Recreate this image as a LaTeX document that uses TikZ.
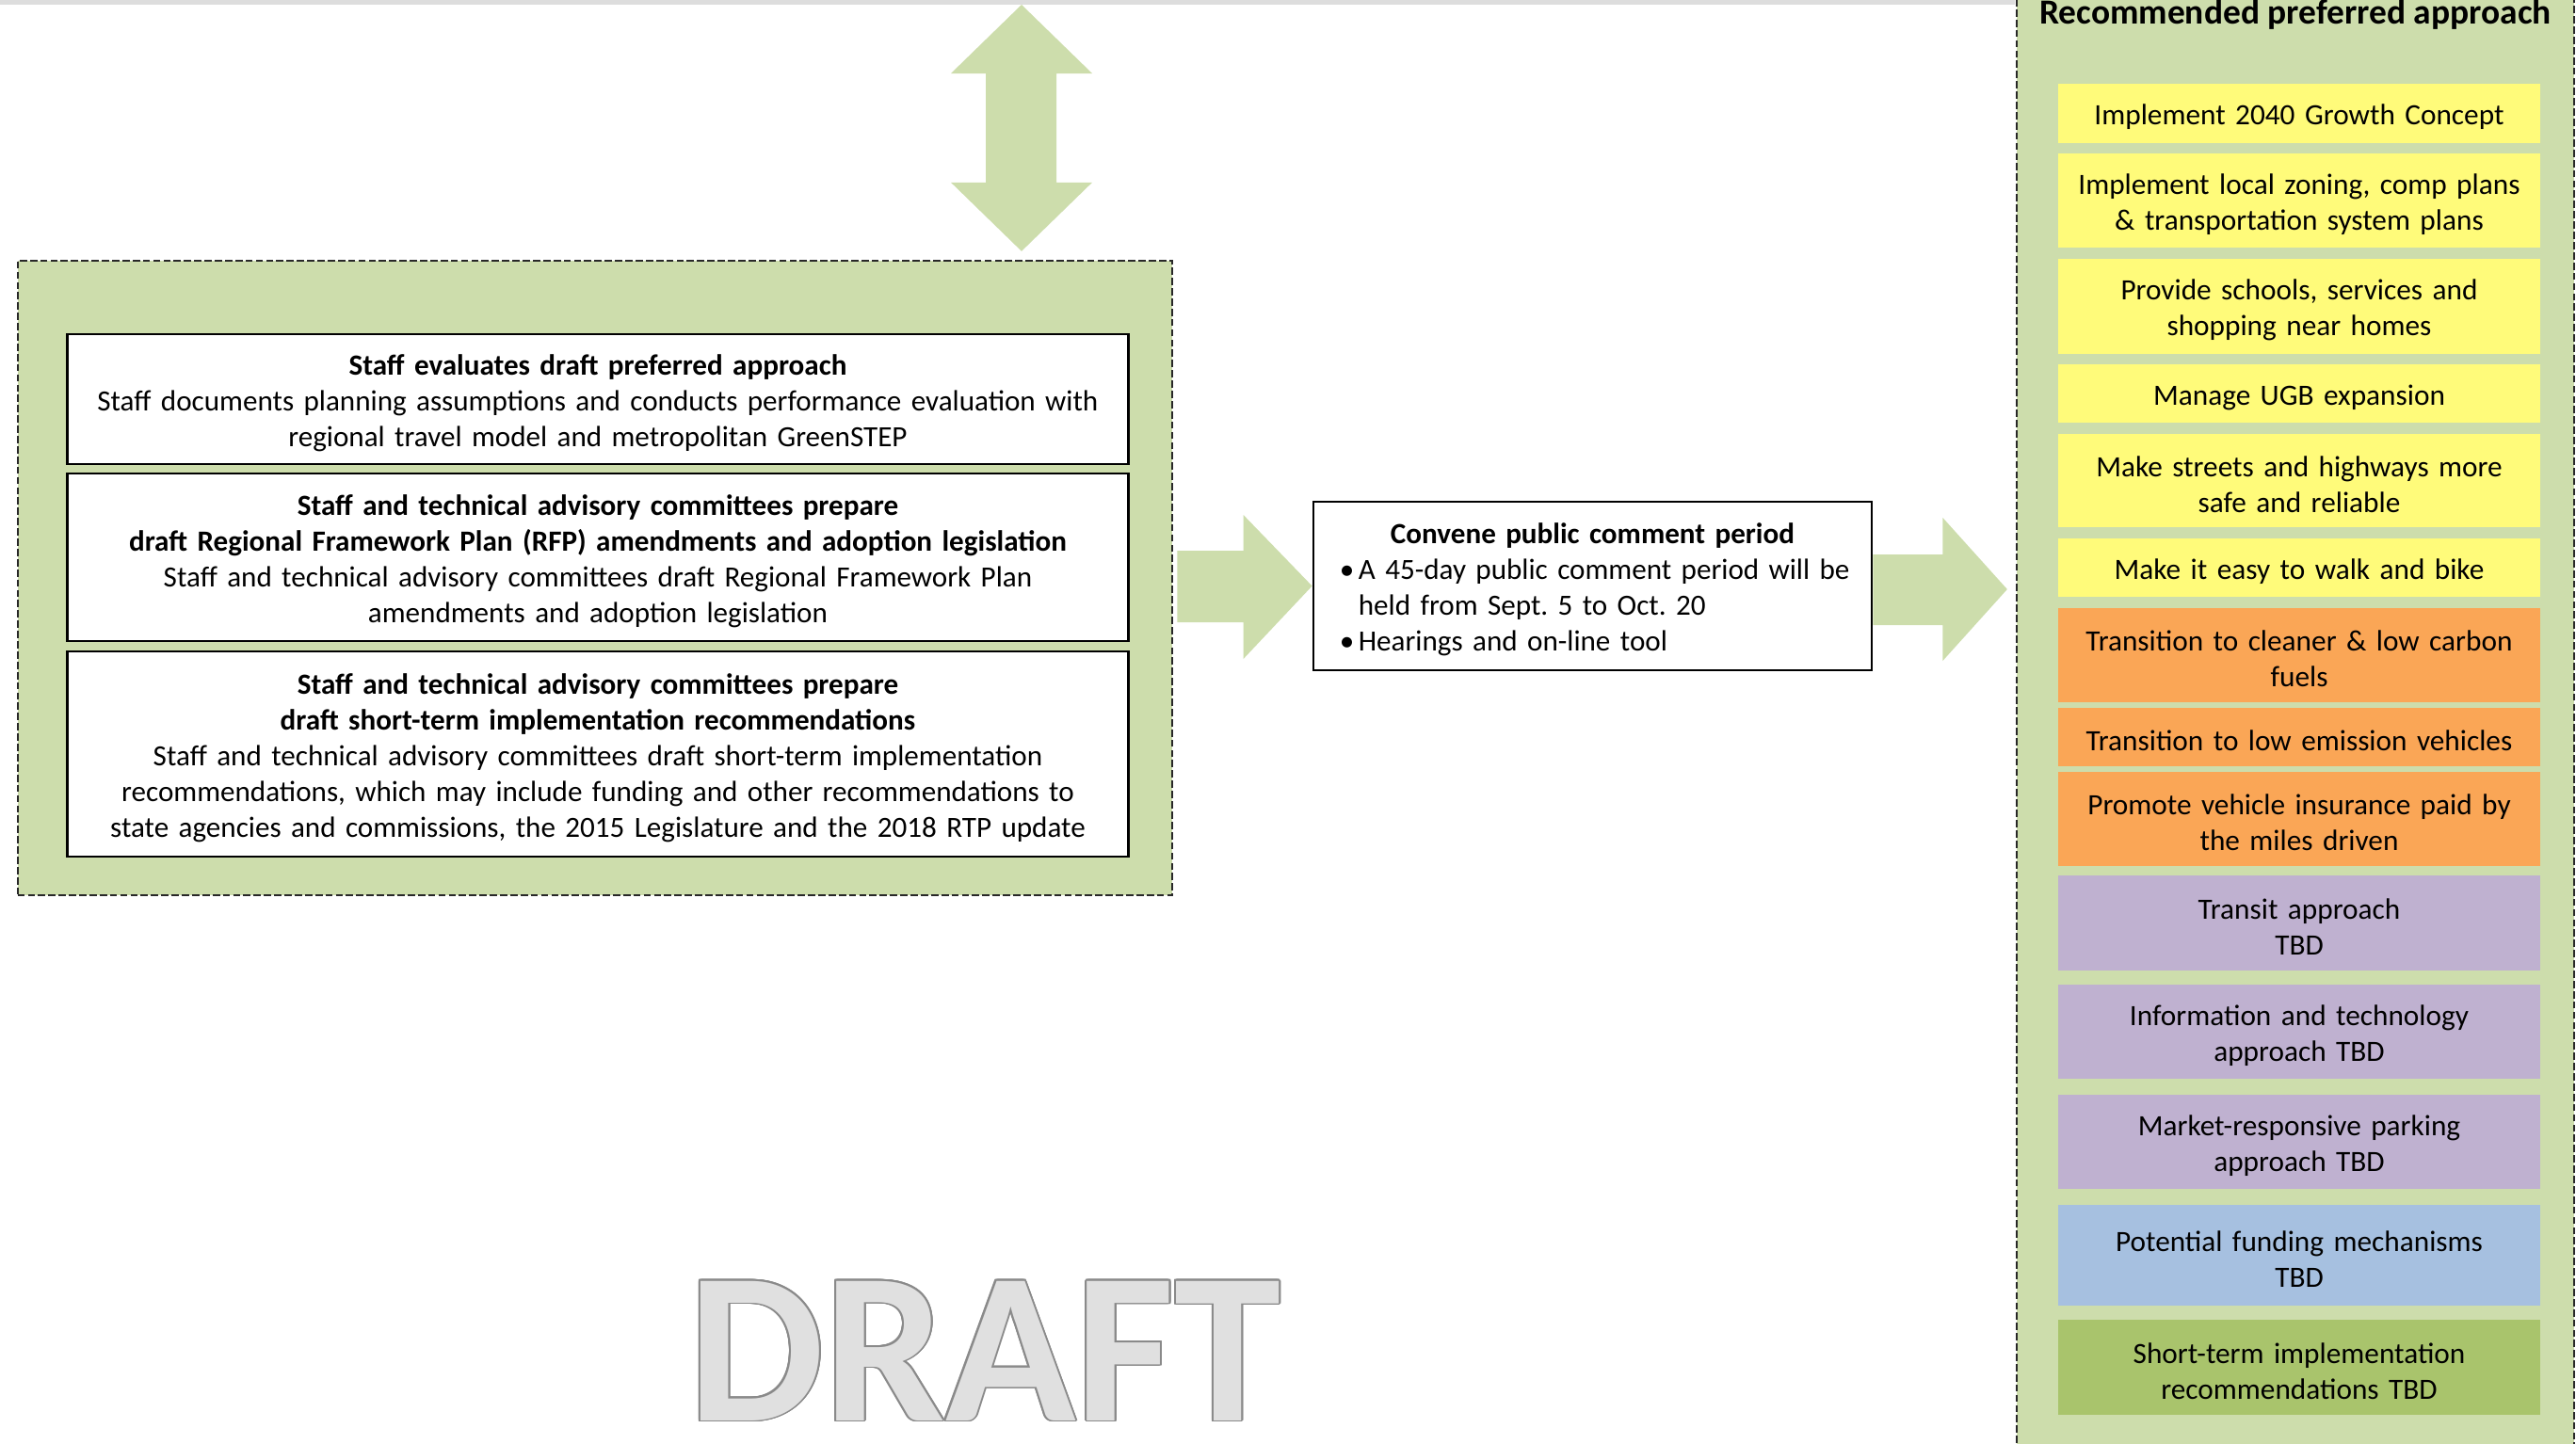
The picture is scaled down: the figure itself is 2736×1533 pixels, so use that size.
\documentclass[tikz,border=0pt]{standalone}
\usepackage{fontspec}
\setmainfont{Carlito}
\usetikzlibrary{calc}
\frenchspacing
\definecolor{lgreen}{RGB}{205,221,172}
\definecolor{topgrey}{RGB}{221,221,221}
\definecolor{ylw}{RGB}{255,251,122}
\definecolor{org}{RGB}{250,166,86}
\definecolor{pur}{RGB}{191,177,208}
\definecolor{blu}{RGB}{166,192,224}
\definecolor{grn}{RGB}{169,196,108}
\definecolor{draftfill}{RGB}{224,224,224}
\definecolor{draftline}{RGB}{138,138,138}
\definecolor{dashcol}{RGB}{40,40,40}
\newcommand\bodyfont{\fontsize{8.85pt}{10.8pt}\selectfont}
\newcommand\rfont{\fontsize{8.9pt}{10.8pt}\selectfont}
\newcommand\rbox[5]{%
  \node[rbx,fill=#2,minimum height=#4cm] (#1) at (2442,#3) {};
  \node[rtext] (#1t) at ($(#1.center)+(0,4)$) {#5};}
\begin{document}
\begin{tikzpicture}[x=0.01cm,y=-0.01cm,
  greenarea/.style={fill=lgreen,draw=dashcol,line width=0.55pt,dash pattern=on 2.2pt off 0.9pt,inner sep=0pt},
  whitebox/.style={draw=black,line width=0.7pt,fill=white,inner sep=0pt},
  boxtext/.style={inner sep=0pt,text width=11.1cm,align=center,font=\bodyfont},
  rbx/.style={inner sep=0pt,minimum width=5.12cm},
  rtext/.style={inner sep=0pt,text width=5cm,align=center,font=\rfont},
  blockarrow/.style={fill=lgreen},
  draftsty/.style={font=\fontsize{65pt}{65pt}\selectfont\bfseries,anchor=base,inner sep=0pt}]
\useasboundingbox (0,0) rectangle (2736,1533);
\fill[topgrey] (0,0) rectangle (2140,5);

% containers
\node[greenarea,minimum width=12.26cm,minimum height=6.74cm] (lbox) at (632,614) {};
\node[greenarea,minimum width=5.92cm,minimum height=15.6cm] (rbox) at (2438,767) {};
\node[font=\fontsize{10.65pt}{13pt}\selectfont\bfseries,anchor=base,inner sep=0pt] (rtitle) at (2438,25) {Recommended preferred approach};

% left boxes
\node[whitebox,minimum width=11.26cm,minimum height=1.38cm] (b1) at (635,424) {};
\node[boxtext] (b1t) at ($(b1.center)+(0,4)$) {\textbf{Staff evaluates draft preferred approach}\\Staff documents planning assumptions and conducts performance evaluation with\\regional travel model and metropolitan GreenSTEP};
\node[whitebox,minimum width=11.26cm,minimum height=1.78cm] (b2) at (635,592) {};
\node[boxtext] (b2t) at ($(b2.center)+(0,4)$) {\textbf{Staff and technical advisory committees prepare}\\\textbf{draft Regional Framework Plan (RFP) amendments and adoption legislation}\\Staff and technical advisory committees draft Regional Framework Plan\\amendments and adoption legislation};
\node[whitebox,minimum width=11.26cm,minimum height=2.18cm] (b3) at (635,801) {};
\node[boxtext] (b3t) at ($(b3.center)+(0,4)$) {\textbf{Staff and technical advisory committees prepare}\\\textbf{draft short-term implementation recommendations}\\Staff and technical advisory committees draft short-term implementation\\recommendations, which may include funding and other recommendations to\\state agencies and commissions, the 2015 Legislature and the 2018 RTP update};

% center box
\node[whitebox,minimum width=5.93cm,minimum height=1.79cm] (pub) at (1691.5,622.5) {};
\node[boxtext,text width=5.6cm,align=left] (pubt) at ($(pub.center)+(11.5,4)$) {\makebox[\linewidth][c]{\hspace*{-0.23cm}\textbf{Convene public comment period}}\\\makebox[0.2cm][l]{\textbullet}A 45-day public comment period will be\\\hspace*{0.2cm}held from Sept. 5 to Oct. 20\\\makebox[0.2cm][l]{\textbullet}Hearings and on-line tool};

% right boxes
\rbox{r1}{ylw}{120.5}{0.63}{Implement 2040 Growth Concept}
\rbox{r2}{ylw}{213}{1.00}{Implement local zoning, comp plans\\\& transportation system plans}
\rbox{r3}{ylw}{325.5}{1.01}{Provide schools, services and\\shopping near homes}
\rbox{r4}{ylw}{418}{0.62}{Manage UGB expansion}
\rbox{r5}{ylw}{510.5}{0.99}{Make streets and highways more\\safe and reliable}
\rbox{r6}{ylw}{603}{0.62}{Make it easy to walk and bike}
\rbox{r7}{org}{696}{1.00}{Transition to cleaner \& low carbon\\fuels}
\rbox{r8}{org}{783}{0.62}{Transition to low emission vehicles}
\rbox{r9}{org}{870}{1.00}{Promote vehicle insurance paid by\\the miles driven}
\rbox{r10}{pur}{980.5}{1.01}{Transit approach\\TBD}
\rbox{r11}{pur}{1096}{1.00}{Information and technology\\approach TBD}
\rbox{r12}{pur}{1213}{1.00}{Market-responsive parking\\approach TBD}
\rbox{r13}{blu}{1333.5}{1.07}{Potential funding mechanisms\\TBD}
\rbox{r14}{grn}{1452.5}{1.01}{Short-term implementation\\recommendations TBD}

% block arrows
\coordinate (dtop) at (1085,5);
\coordinate (dbot) at ($(lbox.north)+(453,-9)$);
\fill[blockarrow] (dtop) -- ($(dtop)+(75,73)$) -- ($(dtop)+(37,73)$) -- ($(dbot)+(37,-73)$) -- ($(dbot)+(75,-73)$) -- (dbot) -- ($(dbot)+(-75,-73)$) -- ($(dbot)+(-38,-73)$) -- ($(dtop)+(-38,73)$) -- ($(dtop)+(-75,73)$) -- cycle;

\fill[blockarrow] ($(lbox.east|-pub.west)+(4,-37.5)$) -- ($(pub.west)+(-73,-37.5)$) -- ($(pub.west)+(-73,-75.5)$) -- (pub.west) -- ($(pub.west)+(-73,77.5)$) -- ($(pub.west)+(-73,38.5)$) -- ($(lbox.east|-pub.west)+(4,38.5)$) -- cycle;

\fill[blockarrow] ($(pub.east)+(0,-33.5)$) -- ($(pub.east)+(74,-33.5)$) -- ($(pub.east)+(74,-72.5)$) -- ($(rbox.west|-pub.east)+(-9,3.5)$) -- ($(pub.east)+(74,79.5)$) -- ($(pub.east)+(74,41.5)$) -- ($(pub.east)+(0,41.5)$) -- cycle;

% DRAFT watermark
\foreach \a in {0,20,...,340} \node[draftsty,text=draftline] (dc\a) at ($(1046,1509)+(\a:2)$) {DRAFT};
\node[draftsty,text=draftfill] (draft) at (1046,1509) {DRAFT};
\end{tikzpicture}
\end{document}
